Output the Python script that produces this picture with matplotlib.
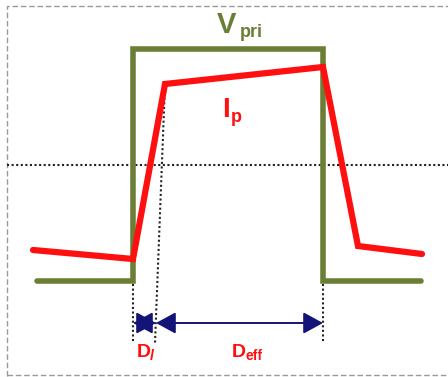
"""Primary voltage and current waveforms with duty-cycle markers."""

import matplotlib
matplotlib.use("Agg")
import matplotlib.pyplot as plt

# waveform vertices, in drawing units (x = time, y grows downward)
vpri_t = [37, 133, 133, 323, 323, 421]
vpri_v = [281, 281, 49, 49, 281, 281]
ip_t = [33, 133, 165, 323, 358, 422]
ip_v = [250, 259, 84, 67, 246, 254]

# interval boundaries for D_l and D_eff
t_on = 133
t_ramp = 156
t_off = 323
y_mid = 165

GREEN = "#6a7f35"
RED = "#ff1010"
NAVY = "#141478"

fig = plt.figure(figsize=(4.48, 3.77), dpi=100)
ax = fig.add_axes([0, 0, 1, 1])
ax.set_xlim(0, 448)
ax.set_ylim(377, 0)
ax.axis("off")

# dashed frame
ax.plot([7, 7, 460], [376, 6, 6], color="#9a9a9a", lw=1, ls=(0, (4, 2)))
ax.plot([7, 460], [375, 375], color="#9a9a9a", lw=1, ls=(0, (4, 2)))

# midline
ax.plot([7, 448], [y_mid, y_mid], color="#222222", lw=1.5, ls=(0, (1, 1.2)))

ax.plot(vpri_t, vpri_v, color=GREEN, lw=4, solid_joinstyle="miter",
        solid_capstyle="round", zorder=3)
ax.plot(ip_t, ip_v, color=RED, lw=4.5, solid_joinstyle="miter",
        solid_capstyle="round", zorder=4)

# dotted guides down to the arrows
dot = dict(color="#222222", lw=1.5, ls=(0, (1, 1.2)), zorder=2)
ax.plot([t_on, t_on], [284, 343], **dot)
ax.plot([ip_t[2], t_ramp - 1], [ip_v[2], 343], **dot)
ax.plot([t_off, t_off], [284, 343], **dot)

arrow = dict(arrowstyle="<|-|>,head_length=0.55,head_width=0.3", color=NAVY,
             lw=1.4, mutation_scale=22, shrinkA=0, shrinkB=0)
ax.annotate("", xy=(t_on, 323), xytext=(t_ramp, 323), arrowprops=arrow)
ax.annotate("", xy=(t_ramp, 323), xytext=(t_off, 323), arrowprops=arrow)

font = dict(family="Liberation Sans", weight="bold")
ax.text(217, 33, "V", color=GREEN, fontsize=21, ha="left", va="baseline", **font)
ax.text(240, 37, "pri", color=GREEN, fontsize=13, ha="left", va="baseline", **font)
ax.text(222, 117, "I", color=RED, fontsize=20, ha="left", va="baseline", **font)
ax.text(231, 122, "p", color=RED, fontsize=13, ha="left", va="baseline", **font)
ax.text(137, 357, "D", color=RED, fontsize=14, ha="left", va="baseline", **font)
ax.text(150, 360, "l", color=RED, fontsize=10, ha="left", va="baseline",
        style="italic", **font)
ax.text(232, 357, "D", color=RED, fontsize=14, ha="left", va="baseline", **font)
ax.text(245, 360, "eff", color=RED, fontsize=10, ha="left", va="baseline", **font)

fig.savefig("out.png", dpi=100)
